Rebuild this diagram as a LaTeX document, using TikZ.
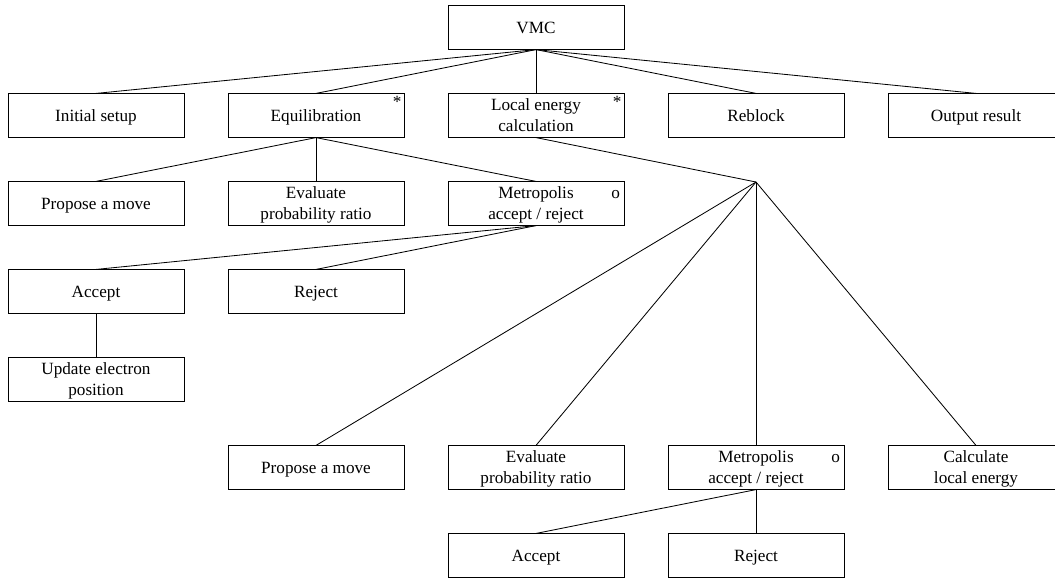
\documentclass[tikz,border=0pt]{standalone}
\usepackage{fontspec}
\setmainfont{Liberation Serif}

\tikzset{
	box/.style={draw, line width=0.5pt, minimum width=105.6pt, minimum height=26pt,
		inner sep=0pt, text depth=0pt, align=center, font=\rmfamily\fontsize{10.3}{12.6}\selectfont},
	ast/.style={anchor=north east, inner sep=1.6pt, font=\rmfamily\fontsize{10.3}{12.6}\selectfont},
	omark/.style={anchor=base east, inner sep=0pt, font=\rmfamily\fontsize{10.3}{12.6}\selectfont}
}

\begin{document}
\begin{tikzpicture}[x=132pt, y=-52.8pt, line width=0.5pt]
		\useasboundingbox (-0.43636,-0.3125) rectangle (4.35909,6.2670);
		% top level
		\node[box] (vmc) at (2,0) {VMC};
		\node[box] (init) at (0,1) {Initial setup};
		\node[box] (equil) at (1,1) {Equilibration};
		\node[box] (local) at (2,1) {Local energy\\calculation};
		\node[box] (reblock) at (3,1) {Reblock};
		\node[box] (output) at (4,1) {Output result};
		\node[ast] (equilast) at (equil.north east) {*};
		\node[ast] (localast) at (local.north east) {*};
		% equilibration steps
		\node[box] (eprop) at (0,2) {Propose a move};
		\node[box] (eeval) at (1,2) {Evaluate\\probability ratio};
		\node[box] (emet) at (2,2) {Metropolis\\accept / reject};
		\node[omark] (emeto) at ([xshift=-2.4pt, yshift=-10.4pt]emet.north east) {o};
		\node[box] (eacc) at (0,3) {Accept};
		\node[box] (erej) at (1,3) {Reject};
		\node[box] (eupd) at (0,4) {Update electron\\position};
		% local energy steps
		\coordinate (hub) at ([yshift=12.9pt]3,2);
		\node[box] (lprop) at (1,5) {Propose a move};
		\node[box] (leval) at (2,5) {Evaluate\\probability ratio};
		\node[box] (lmet) at (3,5) {Metropolis\\accept / reject};
		\node[omark] (lmeto) at ([xshift=-2.4pt, yshift=-10.4pt]lmet.north east) {o};
		\node[box] (lcalc) at (4,5) {Calculate\\local energy};
		\node[box] (lacc) at (2,6) {Accept};
		\node[box] (lrej) at (3,6) {Reject};

		\foreach \c in {init,equil,local,reblock,output}
			{
				\draw (vmc.south) -- (\c.north);
			}
		\foreach \c in {eprop,eeval,emet}
			{
				\draw (equil.south) -- (\c.north);
			}
		\foreach \c in {eacc,erej}
			{
				\draw (emet.south) -- (\c.north);
			}
		\draw (eacc.south) -- (eupd.north);
		\draw (local.south) -- (hub);
		\foreach \c in {lprop,leval,lmet,lcalc}
			{
				\draw (hub) -- (\c.north);
			}
		\foreach \c in {lacc,lrej}
			{
				\draw (lmet.south) -- (\c.north);
			}
	\end{tikzpicture}
\end{document}
